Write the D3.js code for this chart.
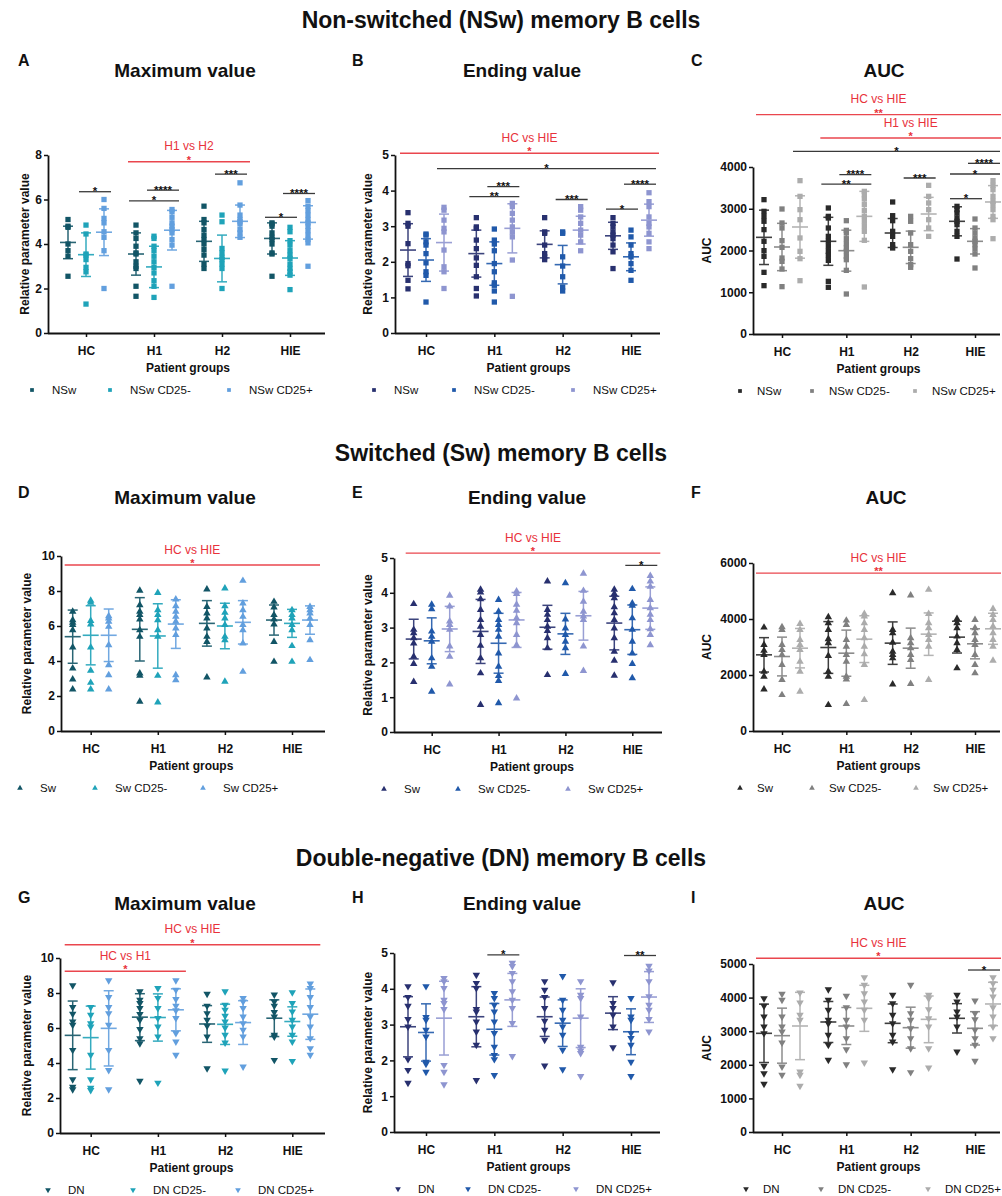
<!DOCTYPE html>
<html><head><meta charset="utf-8">
<script src="https://cdn.jsdelivr.net/npm/d3@7"></script>
<style>body{margin:0;background:#fff}svg{display:block}</style>
</head><body><svg id="chart" width="1002" height="1196"></svg>
<script>
const FONT = '"Liberation Sans", Arial, Helvetica, sans-serif';
const groups = ["HC","H1","H2","HIE"];
const legendNSw = ["NSw","NSw CD25-","NSw CD25+"];
const legendSw = ["Sw","Sw CD25-","Sw CD25+"];
const legendDN = ["DN","DN CD25-","DN CD25+"];
const rowTitles = ["Non-switched (NSw) memory B cells","Switched (Sw) memory B cells","Double-negative (DN) memory B cells"];
const panelTitles = ["Maximum value","Ending value","AUC"];
const yLabels = ["Relative parameter value","Relative parameter value","AUC"];
const xTitle = "Patient groups";

// ---------- Panel A: NSw maximum value ----------
const A_s0 = [[5.1,4.8,4.75,4.0,3.7,3.45,2.55],[4.85,4.5,4.25,3.9,3.6,3.55,3.2,3.0,2.9,2.1,1.65],[5.7,5.1,4.95,4.65,4.4,4.2,4.0,3.75,3.5,3.1,2.9],[4.95,4.9,4.8,4.5,4.3,4.2,4.0,3.6,3.55,2.55]];
const A_s1 = [[4.85,4.45,3.55,3.5,3.3,2.95,2.75,1.3],[4.35,4.25,3.9,3.7,3.45,3.2,2.95,2.7,2.35,2.1,1.6],[5.3,5.0,3.8,3.6,3.4,3.3,3.1,2.9,2.0],[4.75,4.55,4.15,3.95,3.7,3.5,3.35,3.1,2.9,2.75,2.6,1.95]];
const A_s2 = [[6.0,5.6,5.15,4.95,4.55,4.3,3.7,2.0],[5.55,5.45,5.2,4.95,4.8,4.65,4.5,4.2,3.95,2.1],[6.75,5.75,5.3,5.1,5.0,4.9,4.65,4.5,4.3],[5.95,5.7,5.5,5.3,5.1,4.95,4.8,4.6,4.4,4.2,4.05,3.0]];
const A_mean = [[4.07,3.52,4.53],[3.55,2.97,4.62],[4.12,3.35,5.02],[4.25,3.37,4.97]];
const A_sd = [[0.73,0.98,1.05],[0.95,0.93,0.89],[0.9,1.05,0.73],[0.7,0.78,0.75]];
const A_sig = [[0,1,0,2,6.35,"*"],[1,0,1,2,5.94,"*"],[1,1,1,2,6.42,"****"],[2,1,2,2,7.14,"***"],[3,0,3,1,5.2,"*"],[3,1,3,2,6.27,"****"]];
const A_red = [[1,2,7.7,"*","H1 vs H2"]];

// ---------- Panel B: NSw ending value ----------
const B_s0 = [[3.38,3.08,3.0,2.51,1.95,1.89,1.48,1.24],[3.24,2.98,2.94,2.61,2.37,2.11,1.9,1.58,1.25,1.04],[3.24,2.84,2.8,2.47,2.23,2.14,2.06],[3.24,3.08,2.98,2.84,2.75,2.65,2.47,2.28,1.81]];
const B_s1 = [[2.78,2.75,2.56,2.47,2.23,1.97,1.72,1.62,0.87],[2.92,2.61,2.5,2.31,1.95,1.72,1.41,1.34,1.18,0.87],[2.84,2.8,2.14,1.88,1.58,1.29,1.18],[2.89,2.7,2.47,2.23,2.14,1.95,1.76,1.48]];
const B_s2 = [[3.53,3.45,3.17,2.94,2.84,2.33,1.86,1.72,1.25],[3.64,3.55,3.36,3.17,2.98,2.84,2.7,2.05,1.03],[3.55,3.45,3.26,3.08,2.89,2.75,2.56,2.31],[3.94,3.69,3.55,3.26,3.08,2.98,2.8,2.56,2.37]];
const B_mean = [[2.33,2.05,2.54],[2.23,1.95,2.94],[2.49,1.92,2.89],[2.73,2.14,3.17]];
const B_sd = [[0.74,0.6,0.8],[0.66,0.61,0.69],[0.38,0.54,0.39],[0.38,0.39,0.45]];
const B_sig = [[0,2,3,2,4.62,"*"],[1,0,1,2,3.83,"**"],[1,1,1,2,4.11,"***"],[2,1,2,2,3.75,"***"],[3,0,3,1,3.48,"*"],[3,1,3,2,4.18,"****"]];
const B_red = [[0,3,5.05,"*","HC vs HIE"]];

// ---------- Panel C: NSw AUC ----------
const C_s0 = [[3218,2938,2818,2700,2500,2220,1996,1860,1477,1158],[3018,2818,2778,2539,2339,2220,2100,1980,1884,1764,1261,1118],[3162,2834,2714,2459,2339,2140,2060],[3058,2978,2898,2778,2699,2619,2459,2339,1796]];
const C_s1 = [[2994,2659,2539,2236,2076,1820,1740,1557,1134],[2714,2483,2419,2283,2164,2060,1980,1860,1780,1525,958],[2818,2699,2419,2140,1980,1804,1661,1597],[2754,2539,2419,2299,2220,2140,2036,1916,1581]];
const C_s2 = [[3673,3297,2978,2738,2300,1980,1804,1277],[3417,3337,3233,3098,2954,2818,2699,2579,2459,2244,1126],[3561,3297,3138,2978,2738,2539,2339],[3673,3561,3457,3297,3178,3098,2978,2818,2738,2283]];
const C_mean = [[2315,2084,2563],[2220,1996,2818],[2419,2076,2874],[2699,2220,3162]];
const C_sd = [[651,567,747],[575,491,599],[347,388,399],[348,304,392]];
const C_sig = [[0,2,3,2,4375,"*"],[1,0,1,2,3592,"**"],[1,1,1,2,3816,"****"],[2,1,2,2,3736,"***"],[3,0,3,1,3241,"*"],[3,0,3,2,3832,"*"],[3,1,3,2,4088,"****"]];
const C_red = [[0,3,5254,"**","HC vs HIE"],[1,3,4695,"*","H1 vs HIE"]];

// ---------- Panel D: Sw maximum value ----------
const D_s0 = [[6.82,6.34,6.2,6.06,5.77,4.78,3.58,2.95,2.38],[8.02,7.2,6.82,6.63,6.38,5.77,5.39,3.3,3.16,1.68],[8.1,7.1,6.72,6.44,5.87,5.39,5.1,3.07],[7.39,7.07,6.63,6.38,6.1,5.1,3.96]];
const D_s1 = [[7.45,7.33,6.3,6.1,4.78,3.45,2.76,2.38],[7.9,6.91,6.63,6.34,5.77,5.39,3.16,1.64],[8.15,7.14,6.76,6.44,6.06,5.39,5.2,2.82],[6.91,6.63,6.44,6.06,5.77,4.86,3.96]];
const D_s2 = [[6.57,6.44,6.25,5.96,4.91,3.77,3.2,2.38],[7.52,7.14,6.82,6.53,6.25,5.87,5.49,3.2,2.91],[8.59,7.3,6.91,6.53,6.06,5.77,5.01,3.39],[7.1,6.91,6.72,6.44,6.06,5.2,4.06]];
const D_mean = [[5.39,5.47,5.47],[5.81,5.43,6.11],[6.15,6.0,6.21],[6.34,6.15,6.34]];
const D_sd = [[1.52,1.69,1.5],[1.81,1.84,1.39],[1.3,1.3,1.24],[0.86,0.8,0.81]];
const D_sig = [];
const D_red = [[0,3,9.49,"*","HC vs HIE"]];

// ---------- Panel E: Sw ending value ----------
const E_s0 = [[3.68,2.94,2.84,2.7,2.55,2.17,1.96,1.44],[4.09,4.01,3.82,3.51,3.22,3.03,2.79,2.48,2.12,1.69,0.78],[4.33,3.51,3.37,3.22,3.03,2.91,2.7,2.41,1.64],[4.09,3.97,3.85,3.59,3.42,3.22,2.98,2.7,2.31,2.05,1.62]];
const E_s1 = [[3.66,3.53,2.89,2.74,2.6,2.12,1.88,1.16],[3.8,3.46,3.22,3.08,2.94,2.74,2.26,1.88,1.61,1.47,0.83],[4.28,3.24,2.98,2.79,2.6,2.41,1.67],[4.11,3.7,3.63,3.27,2.94,2.6,2.26,1.96,1.55]];
const E_s2 = [[3.92,3.61,3.18,3.08,2.94,2.46,2.17,1.37],[4.04,3.97,3.66,3.49,3.27,3.13,2.79,2.5,0.97],[4.55,4.06,3.75,3.46,3.32,3.22,2.46,1.76],[4.49,4.33,4.18,3.8,3.56,3.37,3.22,2.96,2.79,2.5]];
const E_mean = [[2.67,2.62,2.96],[2.89,2.55,3.22],[3.01,2.82,3.34],[3.13,2.94,3.56]];
const E_sd = [[0.57,0.66,0.65],[0.92,0.86,0.79],[0.63,0.59,0.7],[0.77,0.71,0.61]];
const E_sig = [[3,1,3,2,4.79,"*"]];
const E_red = [[0,3,5.14,"*","HC vs HIE"]];

// ---------- Panel F: Sw AUC ----------
const F_s0 = [[3698,3078,2875,2720,2123,1944,1491],[4068,3853,3615,3280,3138,2684,2123,1944,930],[4927,3615,3495,3161,2839,2720,2600,1670],[4008,3853,3674,3376,3138,2899,2243]];
const F_s1 = [[3710,3615,3078,2899,2720,2362,1825,1288],[3948,3793,3257,3018,2720,2481,1944,1849,966],[4843,3316,3138,2958,2720,2541,1682],[3972,3674,3495,3257,3078,2720,2362,2064]];
const F_s2 = [[3829,3615,3257,3078,2899,2481,2123,1408],[4187,4092,3853,3615,3316,3018,2743,2362,1109],[5046,4187,3853,3674,3436,3257,3018,1825],[4366,4151,3972,3734,3495,3257,3018,2517]];
const F_mean = [[2720,2660,2958],[2982,2779,3280],[3138,2958,3459],[3352,3114,3650]];
const F_sd = [[614,692,704],[925,824,835],[758,716,758],[567,537,555]];
const F_sig = [];
const F_red = [[0,3,5640,"**","HC vs HIE"]];

// ---------- Panel G: DN maximum value ----------
const G_s0 = [[8.43,7.19,6.81,6.37,6.18,4.74,3.06,2.64,2.49],[8.09,7.61,7.42,7.13,6.79,6.46,5.93,5.41,5.12,2.98],[7.95,7.27,6.84,6.46,6.12,5.51,3.69],[7.9,7.5,7.27,6.9,6.65,5.6,5.5,4.17]];
const G_s1 = [[7.19,6.75,6.27,6.08,4.46,3.06,2.58,2.45],[8.28,7.71,7.13,6.56,6.08,5.51,2.87],[8.09,7.32,7.04,6.69,6.37,6.02,5.6,5.16,3.56],[8.03,7.42,6.94,6.46,6.08,5.6,5.22,4.11]];
const G_s2 = [[8.72,7.76,7.19,6.84,6.18,4.74,3.59,2.49],[8.72,8.18,7.65,7.27,7.0,6.56,5.7,5.22,4.46],[7.71,7.51,7.13,6.65,6.27,5.89,5.51,3.79],[8.53,8.28,7.76,7.19,6.65,6.08,5.41,4.84,4.46]];
const G_mean = [[5.58,5.45,5.98],[6.62,6.6,7.04],[6.23,6.21,6.31],[6.56,6.37,6.79]];
const G_sd = [[1.96,1.8,2.15],[1.34,1.35,1.2],[1.05,1.15,1.25],[1.05,0.84,1.44]];
const G_sig = [];
const G_red = [[0,3,10.76,"*","HC vs HIE"],[0,1,9.24,"*","HC vs H1"]];

// ---------- Panel H: DN ending value ----------
const H_s0 = [[4.07,3.77,3.52,3.15,2.94,2.03,1.73,1.37],[4.39,4.16,4.02,3.43,3.36,3.08,2.8,2.43,1.45],[4.21,3.97,3.77,3.46,3.1,2.85,2.57,1.85],[4.18,3.6,3.46,3.27,2.94,2.36]];
const H_s1 = [[4.07,3.21,3.13,2.85,2.66,1.96,1.9,1.68],[3.88,3.74,3.55,3.36,3.08,2.76,2.38,2.15,2.03,1.59],[4.35,3.69,3.41,3.13,2.94,2.71,2.29,1.75],[3.74,3.22,3.13,2.76,2.62,2.43,1.96,1.56]];
const H_s2 = [[4.3,4.21,4.02,3.69,3.6,3.43,1.87,1.68,1.33],[4.72,4.63,4.44,4.21,3.93,3.69,3.46,3.04,2.12],[4.21,3.83,3.74,3.22,2.38,2.27,2.2,1.56],[4.64,4.51,4.21,3.79,3.55,3.41,3.15,2.8]];
const H_mean = [[2.94,2.78,3.18],[3.22,2.87,3.69],[3.22,3.04,3.18],[3.32,2.8,3.77]];
const H_sd = [[0.84,0.8,1.03],[0.84,0.72,0.74],[0.55,0.65,0.82],[0.46,0.64,0.71]];
const H_sig = [[1,1,1,2,4.95,"*"],[3,1,3,2,4.93,"**"]];
const H_red = [];

// ---------- Panel I: DN AUC ----------
const I_s0 = [[3978,3750,3433,3135,2937,1964,1746,1429],[4246,3929,3631,3333,3234,2887,2589,2143],[4077,3829,3482,3234,2887,2689,1865],[4077,3879,3581,3433,3135,2391]];
const I_s1 = [[4107,3929,3433,3135,2986,2659,1944,1697],[4048,3710,3333,3135,2788,2460,2014],[4375,3532,3333,3085,2788,2490,1776],[3909,3532,3353,3036,2788,2589,2113]];
const I_s2 = [[4147,3849,3482,3333,1796,1697,1369],[4603,4375,4127,3879,3631,3333,2063],[4077,3978,3651,3383,3135,2490,1915],[4603,4425,4226,4028,3710,3433,3135,2788]];
const I_mean = [[2937,2867,3155],[3274,3155,3681],[3234,3105,3353],[3383,3085,3810]];
const I_sd = [[869,819,1002],[610,551,685],[576,610,695],[437,496,645]];
const I_sig = [[3,1,3,2,4821,"*"]];
const I_red = [[0,3,5169,"*","HC vs HIE"]];

// ---------- styling / layout ----------
const tealSet = ["#125566","#1fa3b9","#629fde"];
const blueSet = ["#28306f","#2059aa","#8e95d0"];
const graySet = ["#2a2a2a","#808080","#acacac"];
const RED = "#e8323b";

const rowLayout = [
  {titleY:20, subY:70, letterY:60, legend:legendNSw, sym:"square"},
  {titleY:453, subY:497, letterY:492, legend:legendSw, sym:"up"},
  {titleY:858, subY:903, letterY:897, legend:legendDN, sym:"down"}
];
const panels = [
  {L:"A",row:0,col:0,s:[A_s0,A_s1,A_s2],mean:A_mean,sd:A_sd,sig:A_sig,red:A_red,colors:tealSet,max:8,step:2,x0:48,x1:325,c0:86,c3:290,yTop:155,yBot:333,ylabX:25,titleX:185,letterX:18,leg:[32,110,229]},
  {L:"B",row:0,col:1,s:[B_s0,B_s1,B_s2],mean:B_mean,sd:B_sd,sig:B_sig,red:B_red,colors:blueSet,max:5,step:1,x0:395,x1:660,c0:426,c3:631,yTop:155,yBot:333,ylabX:368,titleX:522,letterX:352,leg:[374,454,573]},
  {L:"C",row:0,col:2,s:[C_s0,C_s1,C_s2],mean:C_mean,sd:C_sd,sig:C_sig,red:C_red,colors:graySet,max:4000,step:1000,x0:753,x1:1000,c0:782,c3:975,yTop:167,yBot:334,ylabX:707,titleX:884,letterX:691,leg:[740,812,915]},
  {L:"D",row:1,col:0,s:[D_s0,D_s1,D_s2],mean:D_mean,sd:D_sd,sig:D_sig,red:D_red,colors:tealSet,max:10,step:2,x0:61,x1:325,c0:90.7,c3:292,yTop:556,yBot:731,ylabX:27,titleX:185,letterX:18,leg:[20,95,203]},
  {L:"E",row:1,col:1,s:[E_s0,E_s1,E_s2],mean:E_mean,sd:E_sd,sig:E_sig,red:E_red,colors:blueSet,max:5,step:1,x0:394,x1:662,c0:431.7,c3:632.3,yTop:558,yBot:732,ylabX:368,titleX:527,letterX:352,leg:[384,458,568]},
  {L:"F",row:1,col:2,s:[F_s0,F_s1,F_s2],mean:F_mean,sd:F_sd,sig:F_sig,red:F_red,colors:graySet,max:6000,step:2000,x0:753,x1:1000,c0:782,c3:975,yTop:563,yBot:731,ylabX:707,titleX:886,letterX:691,leg:[740,812,916]},
  {L:"G",row:2,col:0,s:[G_s0,G_s1,G_s2],mean:G_mean,sd:G_sd,sig:G_sig,red:G_red,colors:tealSet,max:10,step:2,x0:60,x1:325,c0:90.7,c3:292.3,yTop:958,yBot:1133,ylabX:27,titleX:185,letterX:18,leg:[48,133,238]},
  {L:"H",row:2,col:1,s:[H_s0,H_s1,H_s2],mean:H_mean,sd:H_sd,sig:H_sig,red:H_red,colors:blueSet,max:5,step:1,x0:394,x1:660,c0:426,c3:631,yTop:953,yBot:1132,ylabX:368,titleX:522,letterX:352,leg:[398,468,576]},
  {L:"I",row:2,col:2,s:[I_s0,I_s1,I_s2],mean:I_mean,sd:I_sd,sig:I_sig,red:I_red,colors:graySet,max:5000,step:1000,x0:753,x1:1000,c0:782,c3:975,yTop:964,yBot:1132,ylabX:707,titleX:884,letterX:691,leg:[746,821,928]}
];

const svg = d3.select("#chart");
svg.append("rect").attr("width",1002).attr("height",1196).attr("fill","#fff");

rowLayout.forEach((r,i)=>{
  svg.append("text").attr("x",501).attr("y",r.titleY+8).attr("text-anchor","middle")
    .attr("font-family",FONT).attr("font-weight","bold").attr("font-size",23).attr("fill","#111").text(rowTitles[i]);
});

const OFF = 18;
function symPath(kind, size){
  if(kind==="square") return d3.symbol().type(d3.symbolSquare).size(size)();
  return d3.symbol().type(d3.symbolTriangle).size(size)();
}

panels.forEach(p=>{
  const r = rowLayout[p.row];
  const g = svg.append("g");
  const y = d3.scaleLinear().domain([0,p.max]).range([p.yBot,p.yTop]);
  const xc = d3.scalePoint().domain(groups).range([p.c0,p.c3]);
  const xs = (gi,si)=> xc(groups[gi]) + (si-1)*OFF;

  // titles
  g.append("text").attr("x",p.letterX).attr("y",r.letterY+6).attr("font-family",FONT).attr("font-weight","bold")
    .attr("font-size",16).attr("fill","#111").text(p.L);
  g.append("text").attr("x",p.titleX).attr("y",r.subY+7).attr("text-anchor","middle").attr("font-family",FONT)
    .attr("font-weight","bold").attr("font-size",19).attr("fill","#111").text(panelTitles[p.col]);

  // y axis
  const ticks = d3.range(0,p.max+1e-9,p.step);
  const ga = g.append("g").attr("transform",`translate(${p.x0},0)`)
    .call(d3.axisLeft(y).tickValues(ticks).tickFormat(d3.format("d")).tickSize(4).tickPadding(2).tickSizeOuter(0));
  ga.attr("font-family",FONT).attr("font-size",12).attr("font-weight","bold");
  ga.select(".domain").attr("stroke","#111").attr("stroke-width",1.8);
  ga.selectAll(".tick line").attr("stroke","#111").attr("stroke-width",1.5);
  ga.selectAll(".tick text").attr("fill","#111");

  // x axis
  g.append("line").attr("x1",p.x0).attr("x2",p.x1).attr("y1",p.yBot+0.5).attr("y2",p.yBot+0.5)
    .attr("stroke","#111").attr("stroke-width",1.8);
  const gx = g.append("g").attr("transform",`translate(0,${p.yBot})`)
    .call(d3.axisBottom(xc).tickSize(4).tickPadding(9).tickSizeOuter(0));
  gx.attr("font-family",FONT).attr("font-size",12).attr("font-weight","bold");
  gx.select(".domain").remove();
  gx.selectAll(".tick line").attr("stroke","#111").attr("stroke-width",1.5);
  gx.selectAll(".tick text").attr("fill","#111");

  // axis titles
  g.append("text").attr("transform",`translate(${p.ylabX},${(p.yTop+p.yBot)/2}) rotate(-90)`)
    .attr("text-anchor","middle").attr("dy","0.36em").attr("font-family",FONT).attr("font-weight","bold")
    .attr("font-size",12).attr("fill","#111").text(yLabels[p.col]);
  g.append("text").attr("x",(p.c0+p.c3)/2).attr("y",p.yBot+39).attr("text-anchor","middle")
    .attr("font-family",FONT).attr("font-weight","bold").attr("font-size",12).attr("fill","#111").text(xTitle);

  // points
  const sz = r.sym==="square" ? 28 : 24;
  const path = symPath(r.sym, sz);
  const rot = r.sym==="down" ? " rotate(180)" : "";
  p.s.forEach((ser,si)=>{
    ser.forEach((vals,gi)=>{
      g.selectAll(null).data(vals).join("path")
        .attr("d",path)
        .attr("transform",v=>`translate(${xs(gi,si)},${y(v)})${rot}`)
        .attr("fill",p.colors[si]);
    });
  });

  // mean +- SD
  p.mean.forEach((row,gi)=>{
    row.forEach((m,si)=>{
      const sdv = p.sd[gi][si], cx = xs(gi,si), col = p.colors[si];
      const eb = g.append("g").attr("stroke",col).attr("stroke-width",1.5).attr("opacity",0.9);
      eb.append("line").attr("x1",cx).attr("x2",cx).attr("y1",y(m-sdv)).attr("y2",y(m+sdv));
      eb.append("line").attr("x1",cx-5).attr("x2",cx+5).attr("y1",y(m-sdv)).attr("y2",y(m-sdv));
      eb.append("line").attr("x1",cx-5).attr("x2",cx+5).attr("y1",y(m+sdv)).attr("y2",y(m+sdv));
      eb.append("line").attr("x1",cx-8).attr("x2",cx+8).attr("y1",y(m)).attr("y2",y(m)).attr("stroke-width",1.6);
    });
  });

  // significance bars
  p.sig.forEach(([g1,s1,g2,s2,v,lab])=>{
    const xa = xs(g1,s1)-7, xb = Math.min(xs(g2,s2)+7, 1001), yy = y(v);
    g.append("line").attr("x1",xa).attr("x2",xb).attr("y1",yy).attr("y2",yy).attr("stroke","#3a3a3a").attr("stroke-width",1.3);
    g.append("text").attr("x",(xa+xb)/2).attr("y",yy+3.5).attr("text-anchor","middle").attr("font-family",FONT)
      .attr("font-weight","bold").attr("font-size",11.5).attr("fill","#111").text(lab);
  });
  p.red.forEach(([g1,g2,v,stars,txt])=>{
    const xa = xs(g1,0)-8, xb = Math.min(xs(g2,2)+10, 1001), yy = y(v);
    g.append("line").attr("x1",xa).attr("x2",xb).attr("y1",yy).attr("y2",yy).attr("stroke",RED).attr("stroke-width",1.4).attr("opacity",0.9);
    g.append("text").attr("x",(xa+xb)/2).attr("y",yy+2).attr("text-anchor","middle").attr("font-family",FONT)
      .attr("font-weight","bold").attr("font-size",11).attr("fill",RED).text(stars);
    g.append("text").attr("x",(xa+xb)/2).attr("y",yy-11.4).attr("text-anchor","middle").attr("font-family",FONT)
      .attr("font-size",12).attr("fill",RED).text(txt);
  });

  // legend
  const ly = p.yBot + 57;
  const lpath = symPath(r.sym, 14);
  r.legend.forEach((name,si)=>{
    g.append("path").attr("d",lpath).attr("transform",`translate(${p.leg[si]},${ly})${rot}`).attr("fill",p.colors[si]);
    g.append("text").attr("x",p.leg[si]+(p.col===2?17:20)).attr("y",ly+4).attr("font-family",FONT).attr("font-size",11.5)
      .attr("fill","#111").text(name);
  });
});
</script></body></html>
